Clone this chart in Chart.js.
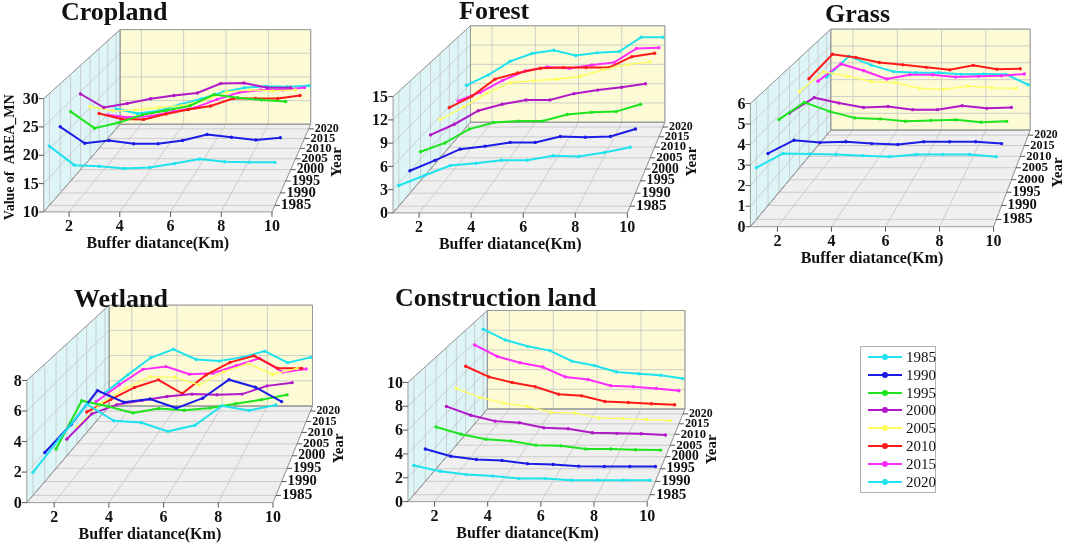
<!DOCTYPE html>
<html>
<head>
<meta charset="utf-8">
<script src="https://cdn.jsdelivr.net/npm/chart.js@4.4.0/dist/chart.umd.min.js"></script>
<style>
  body { margin: 0; background: #fff; width: 1072px; height: 549px; overflow: hidden; position: relative; }
  #wrap { position: absolute; left: 0; top: 0; width: 1072px; height: 549px; }
  #legend { position: absolute; left: 860px; top: 346px; width: 74px; height: 145px; border: 1px solid #b0b0b0;
            font-family: "Liberation Serif", serif; font-size: 15px; color: #111; }
  #legend .item { position: absolute; left: 0; height: 18px; width: 74px; }
  #legend .ln { position: absolute; left: 7px; top: 8px; width: 34px; height: 2px; }
  #legend .dot { position: absolute; left: 21px; top: 6px; width: 6px; height: 6px; border-radius: 3px; }
  #legend .tx { position: absolute; left: 45px; top: 0px; line-height: 18px; }
</style>
</head>
<body>
<div id="wrap"><canvas id="chart" width="1072" height="549"></canvas></div>
<div id="legend"></div>
<script>
// ---- data ----
const distances = [1, 2, 3, 4, 5, 6, 7, 8, 9, 10];
const distanceTicks = [2, 4, 6, 8, 10];
const years = ['1985', '1990', '1995', '2000', '2005', '2010', '2015', '2020'];

const croplandTicks = [10, 15, 20, 25, 30];
const cropland = [
  [20.6, 17.2, 17.0, 16.6, 16.8, 17.5, 18.3, 17.8, 17.7, 17.7],
  [22.1, 19.1, 19.6, 19.0, 19.0, 19.6, 20.7, 20.2, 19.7, 20.1],
  [23.0, 19.9, 20.9, 22.4, 23.2, 24.1, 26.2, 25.6, 25.2, 24.9],
  [24.5, 21.9, 22.7, 23.6, 24.2, 24.7, 26.5, 26.6, 25.7, 25.7],
  [20.2, 19.4, 19.6, 20.0, 20.4, 21.5, 23.1, 23.5, 23.3, 23.5],
  [17.0, 15.9, 15.8, 16.9, 17.8, 18.5, 20.0, 20.0, 20.0, 20.6],
  [14.8, 14.3, 14.6, 15.5, 16.3, 18.0, 19.4, 19.9, 19.9, 20.4],
  [14.2, 13.2, 13.8, 15.1, 16.3, 17.7, 18.6, 18.9, 18.8, 19.0]
];

const forestTicks = [0, 3, 6, 9, 12, 15];
const forest = [
  [2.7, 4.0, 5.3, 5.6, 6.0, 6.0, 6.6, 6.5, 7.0, 7.7],
  [3.0, 4.4, 5.9, 6.3, 6.8, 6.8, 7.6, 7.5, 7.6, 8.6],
  [4.0, 5.2, 7.1, 8.0, 8.2, 8.2, 9.1, 9.4, 9.5, 10.5],
  [4.8, 6.3, 8.2, 9.1, 9.7, 9.7, 10.6, 11.1, 11.5, 12.0],
  [5.5, 7.3, 9.3, 10.8, 11.1, 11.3, 11.7, 12.7, 13.4, 13.8],
  [5.8, 7.5, 10.0, 10.9, 11.6, 11.7, 11.7, 11.7, 13.3, 13.8],
  [5.4, 6.7, 8.5, 9.9, 10.5, 10.3, 10.8, 11.2, 13.3, 13.4],
  [6.4, 8.0, 10.1, 11.3, 11.8, 11.0, 11.4, 11.6, 13.8, 13.8]
];

const grassTicks = [0, 1, 2, 3, 4, 5, 6];
const grass = [
  [2.56, 3.26, 3.23, 3.21, 3.15, 3.10, 3.21, 3.21, 3.21, 3.10],
  [2.64, 3.31, 3.19, 3.23, 3.14, 3.09, 3.23, 3.23, 3.23, 3.14],
  [3.79, 4.68, 4.21, 3.87, 3.82, 3.70, 3.74, 3.77, 3.65, 3.69],
  [3.56, 4.38, 4.09, 3.86, 3.91, 3.74, 3.74, 3.95, 3.81, 3.86],
  [4.17, 5.25, 5.01, 4.71, 4.65, 4.34, 4.29, 4.47, 4.37, 4.34],
  [4.35, 5.72, 5.54, 5.26, 5.13, 4.99, 4.85, 5.10, 4.89, 4.91],
  [3.69, 4.68, 4.29, 3.82, 4.06, 4.06, 3.93, 3.97, 4.00, 4.10],
  [3.40, 4.64, 4.11, 3.73, 3.67, 3.67, 3.57, 3.59, 3.57, 2.96]
];

const wetlandTicks = [0, 2, 4, 6, 8];
const wetland = [
  [1.53, 3.82, 6.04, 4.95, 4.84, 4.25, 4.65, 5.95, 5.63, 6.00],
  [1.98, 3.88, 6.19, 5.40, 5.62, 5.00, 5.67, 6.93, 6.42, 5.44],
  [1.35, 4.72, 4.33, 3.87, 4.17, 4.05, 4.21, 4.51, 4.79, 5.13],
  [1.19, 3.00, 3.66, 3.96, 4.24, 4.41, 4.36, 4.41, 5.00, 5.23],
  [1.24, 2.99, 4.07, 4.92, 4.87, 4.31, 5.28, 5.88, 5.08, 5.52],
  [1.53, 2.46, 3.37, 3.94, 2.91, 4.31, 5.25, 5.74, 4.80, 4.80],
  [1.51, 2.82, 4.00, 4.21, 3.63, 3.70, 4.28, 4.84, 3.78, 4.03],
  [1.43, 2.84, 4.18, 4.85, 4.05, 3.92, 4.21, 4.70, 3.80, 4.21]
];

const constructionTicks = [0, 2, 4, 6, 8, 10];
const construction = [
  [2.49, 1.99, 1.71, 1.60, 1.37, 1.37, 1.23, 1.23, 1.23, 1.23],
  [2.83, 2.20, 1.91, 1.82, 1.54, 1.48, 1.33, 1.30, 1.30, 1.30],
  [3.73, 3.08, 2.64, 2.49, 2.11, 2.05, 1.76, 1.76, 1.70, 1.67],
  [4.61, 3.80, 3.26, 3.11, 2.65, 2.56, 2.20, 2.14, 2.11, 1.99],
  [5.34, 4.48, 3.95, 3.64, 3.09, 3.02, 2.56, 2.50, 2.41, 2.31],
  [6.53, 5.51, 4.98, 4.57, 3.84, 3.69, 3.15, 3.05, 2.93, 2.83],
  [7.75, 6.62, 6.00, 5.58, 4.61, 4.35, 3.74, 3.64, 3.48, 3.25],
  [8.50, 7.41, 6.78, 6.35, 5.29, 4.86, 4.20, 4.03, 3.87, 3.54]
];

// ---- styles / layout ----
const yearColors = ['#1fe2ee', '#1c1ce6', '#1ee41e', '#b018c8', '#ffff5a', '#ff1a1a', '#ff2cff', '#1fe2ee'];
const serif = '"Liberation Serif", "Times New Roman", serif';

// front face (fl, fb, w, h) and back face (bl, bb, scale s) of each 3D box
const panels = [
  { title: 'Cropland', tx: 61, ty: 20, values: cropland, ticks: croplandTicks, yLabel: 'Value of  AREA_MN',
    fl: 40, fb: 211, w: 230, h: 115, bl: 117, bb: 122, s: 0.835 },
  { title: 'Forest', tx: 459, ty: 19, values: forest, ticks: forestTicks,
    fl: 392, fb: 212, w: 236, h: 118, bl: 470, bb: 120, s: 0.83 },
  { title: 'Grass', tx: 825, ty: 22, values: grass, ticks: grassTicks,
    fl: 752, fb: 226, w: 245, h: 125, bl: 833, bb: 128, s: 0.82 },
  { title: 'Wetland', tx: 74, ty: 307, values: wetland, ticks: wetlandTicks,
    fl: 23, fb: 506, w: 248, h: 124, bl: 106, bb: 408, s: 0.826 },
  { title: 'Construction land', tx: 395, ty: 306, values: construction, ticks: constructionTicks,
    fl: 407, fb: 505, w: 241, h: 121, bl: 487, bb: 411, s: 0.826 }
];

const dMin = distances[0], dMax = distances[distances.length - 1];

// perspective depth of a year slot (0 = front, 1 = back), in screen terms
function depth(p, i) {
  const t = (i + 0.5) / years.length;
  return t / (p.s + t * (1 - p.s));
}

function project(p, d, ts, v) {
  const vMin = p.ticks[0], vMax = p.ticks[p.ticks.length - 1];
  const sc = 1 - ts * (1 - p.s);
  const left = p.fl + ts * (p.bl - p.fl);
  const bottom = p.fb + ts * (p.bb - p.fb);
  return {
    x: left + (d - dMin) / (dMax - dMin) * p.w * sc,
    y: bottom - (v - vMin) / (vMax - vMin) * p.h * sc
  };
}

// build datasets
const datasets = [];
panels.forEach(p => {
  years.forEach((yr, i) => {
    const ts = depth(p, i);
    datasets.push({
      label: p.title + ' ' + yr,
      data: distances.map((d, j) => project(p, d, ts, p.values[i][j])),
      showLine: true,
      borderColor: yearColors[i],
      backgroundColor: yearColors[i],
      borderWidth: yr === '2005' ? 1.3 : 2,
      pointRadius: 1.7,
      pointBorderWidth: 0,
      tension: 0,
      clip: false
    });
  });
});

// draws the walls, floor, grids and all labels of each 3D box
const box3d = {
  id: 'box3d',
  beforeDatasetsDraw(chart) {
    const ctx = chart.ctx;
    const xs = chart.scales.x, ys = chart.scales.y;
    const P = pt => [xs.getPixelForValue(pt.x), ys.getPixelForValue(pt.y)];

    function poly(pts, fill, stroke) {
      ctx.beginPath();
      pts.forEach((pt, k) => { const q = P(pt); k ? ctx.lineTo(q[0], q[1]) : ctx.moveTo(q[0], q[1]); });
      ctx.closePath();
      if (fill) { ctx.fillStyle = fill; ctx.fill(); }
      if (stroke) { ctx.strokeStyle = stroke; ctx.lineWidth = 1; ctx.stroke(); }
    }
    function line(a, b, color, w) {
      const qa = P(a), qb = P(b);
      ctx.beginPath(); ctx.moveTo(qa[0], qa[1]); ctx.lineTo(qb[0], qb[1]);
      ctx.strokeStyle = color; ctx.lineWidth = w || 0.8; ctx.stroke();
    }

    panels.forEach(p => {
      const vMin = p.ticks[0], vMax = p.ticks[p.ticks.length - 1];
      const grid = '#c4c4c4';
      ctx.save();
      // floor, left wall, back wall
      poly([project(p, dMin, 0, vMin), project(p, dMax, 0, vMin), project(p, dMax, 1, vMin), project(p, dMin, 1, vMin)], '#efefef', null);
      poly([project(p, dMin, 0, vMin), project(p, dMin, 1, vMin), project(p, dMin, 1, vMax), project(p, dMin, 0, vMax)], '#def5f7', null);
      poly([project(p, dMin, 1, vMin), project(p, dMax, 1, vMin), project(p, dMax, 1, vMax), project(p, dMin, 1, vMax)], '#fcfbd5', null);

      // grids
      distanceTicks.forEach(d => {
        line(project(p, d, 0, vMin), project(p, d, 1, vMin), grid);
        line(project(p, d, 1, vMin), project(p, d, 1, vMax), grid);
      });
      years.forEach((yr, i) => {
        const ts = depth(p, i);
        line(project(p, dMin, ts, vMin), project(p, dMax, ts, vMin), grid);
        line(project(p, dMin, ts, vMin), project(p, dMin, ts, vMax), grid);
      });
      p.ticks.forEach(v => {
        line(project(p, dMin, 0, v), project(p, dMin, 1, v), grid);
        line(project(p, dMin, 1, v), project(p, dMax, 1, v), grid);
      });

      // outlines
      const edge = '#9a9a9a';
      poly([project(p, dMin, 0, vMin), project(p, dMax, 0, vMin), project(p, dMax, 1, vMin), project(p, dMin, 1, vMin)], null, edge);
      poly([project(p, dMin, 0, vMin), project(p, dMin, 1, vMin), project(p, dMin, 1, vMax), project(p, dMin, 0, vMax)], null, edge);
      poly([project(p, dMin, 1, vMin), project(p, dMax, 1, vMin), project(p, dMax, 1, vMax), project(p, dMin, 1, vMax)], null, edge);

      ctx.fillStyle = '#111';
      // value axis
      ctx.font = 'bold 16px ' + serif;
      ctx.textAlign = 'right'; ctx.textBaseline = 'middle';
      p.ticks.forEach(v => {
        const q = P(project(p, dMin, 0, v));
        ctx.beginPath(); ctx.moveTo(q[0] - 5, q[1]); ctx.lineTo(q[0], q[1]);
        ctx.strokeStyle = '#555'; ctx.lineWidth = 1; ctx.stroke();
        ctx.fillText(String(v), q[0] - 5, q[1] + 1);
      });
      // distance axis
      ctx.textAlign = 'center'; ctx.textBaseline = 'alphabetic';
      distanceTicks.forEach(d => {
        const q = P(project(p, d, 0, vMin));
        ctx.beginPath(); ctx.moveTo(q[0], q[1]); ctx.lineTo(q[0], q[1] + 5);
        ctx.strokeStyle = '#555'; ctx.lineWidth = 1; ctx.stroke();
        ctx.fillText(String(d), q[0], q[1] + 19);
      });
      ctx.font = 'bold 16px ' + serif;
      const fc = P(project(p, (dMin + dMax) / 2, 0, vMin));
      ctx.fillText('Buffer diatance(Km)', fc[0], fc[1] + 36);

      // year axis on the right floor edge
      ctx.textAlign = 'left'; ctx.textBaseline = 'middle';
      years.forEach((yr, i) => {
        const ts = depth(p, i);
        const q = P(project(p, dMax, ts, vMin));
        const sc = 1 - ts * (1 - p.s);
        ctx.beginPath(); ctx.moveTo(q[0], q[1]); ctx.lineTo(q[0] + 5, q[1]);
        ctx.strokeStyle = '#555'; ctx.lineWidth = 1; ctx.stroke();
        ctx.font = 'bold ' + (15.5 * Math.pow(sc, 1.5)).toFixed(1) + 'px ' + serif;
        ctx.fillText(yr, q[0] + 6, q[1]);
      });
      const ym = P(project(p, dMax, 0.5, vMin));
      ctx.save();
      ctx.translate(ym[0] + 50, ym[1] - 6);
      ctx.rotate(-Math.PI / 2);
      ctx.font = 'bold 15px ' + serif;
      ctx.textAlign = 'center'; ctx.textBaseline = 'alphabetic';
      ctx.fillText('Year', 0, 0);
      ctx.restore();

      if (p.yLabel) {
        const yc = P(project(p, dMin, 0, (vMin + vMax) / 2));
        ctx.save();
        ctx.translate(14, yc[1] + 2);
        ctx.rotate(-Math.PI / 2);
        ctx.font = 'bold 14px ' + serif;
        ctx.textAlign = 'center'; ctx.textBaseline = 'alphabetic';
        ctx.fillText(p.yLabel, 0, 0);
        ctx.restore();
      }

      // panel title
      ctx.font = 'bold 26px ' + serif;
      ctx.textAlign = 'left'; ctx.textBaseline = 'alphabetic';
      ctx.fillText(p.title, p.tx, p.ty);
      ctx.restore();
    });
  }
};

new Chart(document.getElementById('chart'), {
  type: 'scatter',
  data: { datasets: datasets },
  options: {
    responsive: false,
    animation: false,
    events: [],
    layout: { padding: 0 },
    plugins: { legend: { display: false }, tooltip: { enabled: false } },
    scales: {
      x: { type: 'linear', min: 0, max: 1072, display: false },
      y: { type: 'linear', min: 0, max: 549, reverse: true, display: false }
    }
  },
  plugins: [box3d]
});

// legend box
const legend = document.getElementById('legend');
years.forEach((yr, i) => {
  const item = document.createElement('div');
  item.className = 'item';
  item.style.top = (1 + i * 17.8) + 'px';
  item.innerHTML = '<span class="ln" style="background:' + yearColors[i] + '"></span>' +
    '<span class="dot" style="background:' + yearColors[i] + '"></span>' +
    '<span class="tx">' + yr + '</span>';
  legend.appendChild(item);
});
</script>
</body>
</html>
